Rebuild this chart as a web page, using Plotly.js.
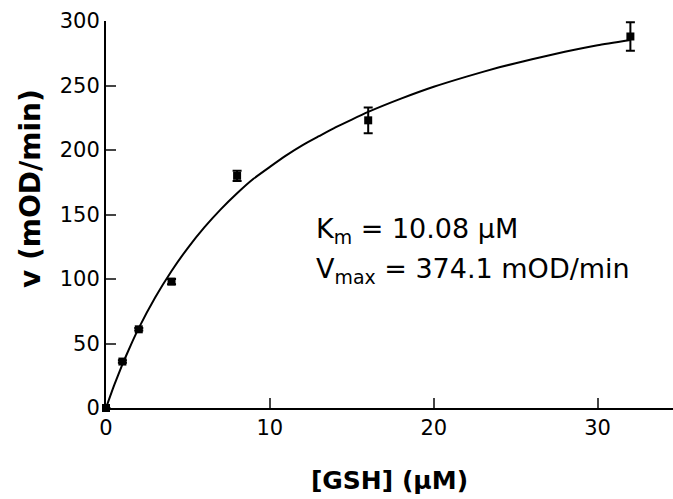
<!DOCTYPE html>
<html><head><meta charset="utf-8">
<script src="https://cdn.plot.ly/plotly-3.0.1.min.js"></script>
<style>body{margin:0;background:#fff}#c{width:673px;height:499px}</style>
</head><body><div id="c"></div>
<script>
// measured data
const gsh = [0, 1, 2, 4, 8, 16, 32];
const rate = [0, 36, 61, 98, 180, 223, 288];
const rateErr = [0, 1, 1, 2, 4, 10, 11];
// fitted curve
const fitX = [0, 0.5, 1, 1.5, 2, 3, 4, 5, 6, 7, 8, 9, 10, 11, 12, 13, 14, 15, 16, 18, 20, 22, 24, 26, 28, 30, 32];
const fitY = [0, 17.7, 33.8, 48.4, 61.9, 85.6, 106.2, 124.2, 140.0, 154.0, 166.5, 177.7, 186.9, 195.8, 203.8, 210.7, 217.5, 223.6, 229.5, 239.8, 249.0, 256.9, 264.1, 270.4, 276.1, 281.2, 285.3];
const kmText = 'K<sub>m</sub> = 10.08 \u03bcM';
const vmaxText = 'V<sub>max</sub> = 374.1 mOD/min';
const xTitle = '<b>[GSH] (\u03bcM)</b>';
const yTitle = '<b>v (mOD/min)</b>';

const font = 'DejaVu Sans, sans-serif';
const traces = [
  {x: fitX, y: fitY, mode: 'lines', line: {color: '#000', width: 2, shape: 'spline', smoothing: 0.5}, hoverinfo: 'skip', cliponaxis: false},
  {x: gsh, y: rate, mode: 'markers', marker: {symbol: 'square', size: 8, color: '#000'},
   error_y: {type: 'data', array: rateErr, color: '#000', thickness: 2, width: 4.5}, cliponaxis: false}
];
const layout = {
  width: 673, height: 499,
  margin: {l: 106, r: 0, t: 21, b: 91},
  showlegend: false,
  paper_bgcolor: '#fff', plot_bgcolor: '#fff',
  font: {family: font, color: '#000'},
  xaxis: {range: [0, 34.6], tickvals: [0, 10, 20, 30], ticks: 'inside', ticklen: 10, tickwidth: 2,
    showline: true, linewidth: 2, linecolor: '#000', showgrid: false, zeroline: false,
    tickfont: {size: 21, family: font},
    title: {text: xTitle, font: {size: 25, family: font}, standoff: 32}},
  yaxis: {range: [0, 300], tickvals: [0, 50, 100, 150, 200, 250, 300], ticks: 'inside', ticklen: 10, tickwidth: 2,
    showline: true, linewidth: 2, linecolor: '#000', showgrid: false, zeroline: false,
    tickfont: {size: 21, family: font}},
  annotations: [
    {x: 12.7, y: 137.6, xref: 'x', yref: 'y', text: kmText, showarrow: false, xanchor: 'left', yanchor: 'middle', font: {size: 27, family: font}},
    {x: 12.7, y: 106.5, xref: 'x', yref: 'y', text: vmaxText, showarrow: false, xanchor: 'left', yanchor: 'middle', font: {size: 27, family: font}},
    {x: -76 / 567, y: (408 - 189) / 387, xref: 'paper', yref: 'paper', text: yTitle, textangle: -90, showarrow: false,
     xanchor: 'center', yanchor: 'middle', font: {size: 28, family: font}}
  ]
};
Plotly.newPlot('c', traces, layout, {displayModeBar: false, staticPlot: true});
</script></body></html>
